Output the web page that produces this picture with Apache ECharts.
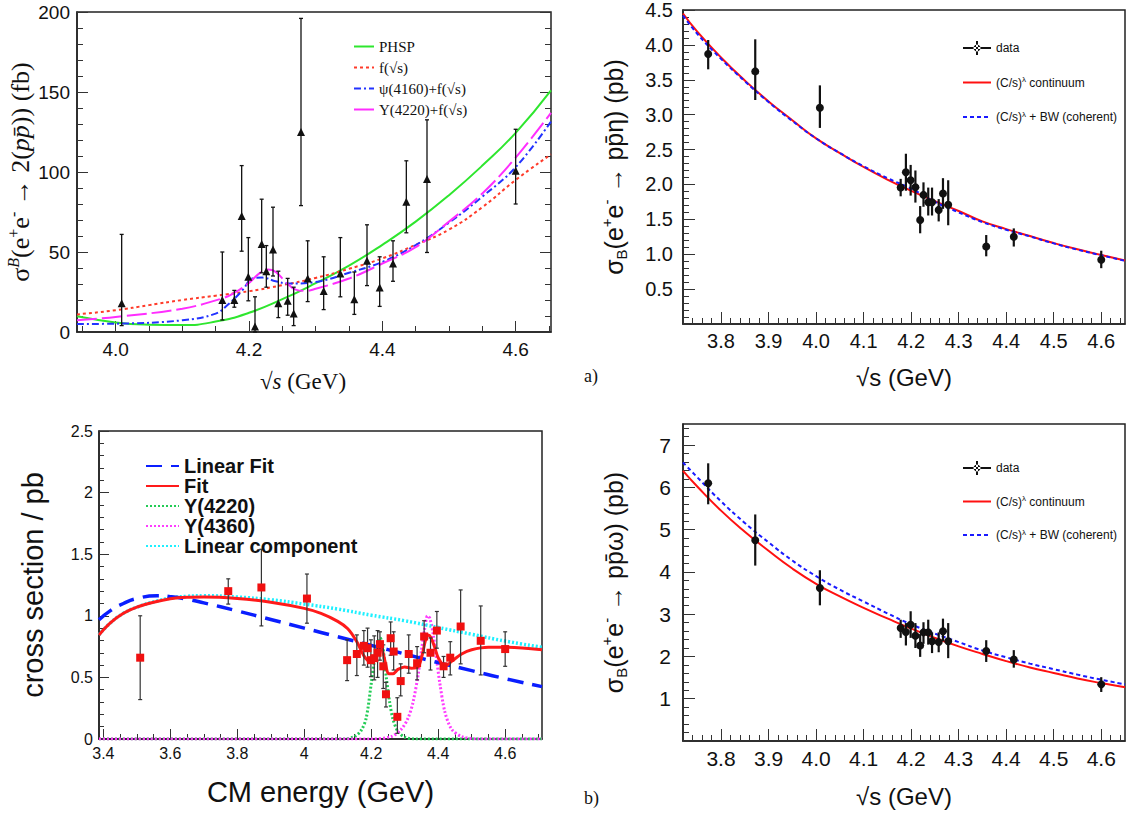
<!DOCTYPE html>
<html>
<head>
<meta charset="utf-8">
<script src="https://cdn.jsdelivr.net/npm/echarts@6.0.0/dist/echarts.min.js"></script>
<style>
  html, body { margin: 0; padding: 0; background: #fff; }
  #main { width: 1131px; height: 818px; }
</style>
</head>
<body>
<div id="main"></div>
<script>
// ---------- panel a) e+e- -> 2(p pbar), fb ----------
var aEnergy = [4.009, 4.160, 4.178, 4.189, 4.199, 4.209, 4.219, 4.226, 4.236, 4.244, 4.258, 4.267, 4.278, 4.288, 4.312, 4.337, 4.358, 4.377, 4.396, 4.416, 4.436, 4.467, 4.600];
var aSigma  = [18, 20, 20, 72.5, 34.5, 3.5, 55, 38, 51.5, 18, 19.5, 11.5, 125, 33.5, 25.7, 36.5, 20.5, 44.5, 27.8, 42.8, 81.4, 95.6, 100.8];
var aLow    = [4, 7.5, 15.5, 50.5, 19.5, 0, 37, 28, 35, 9, 10.5, 4, 79, 19, 14, 22, 11, 29, 16, 31.7, 62, 49.7, 80];
var aHigh   = [61, 50, 26, 104, 59, 22, 83, 54, 78, 38, 33.5, 28, 196, 57, 47, 59, 37.5, 67, 47, 57, 107, 132.6, 126.7];
var aCurveX = [3.942, 4.0, 4.05, 4.1, 4.15, 4.2, 4.25, 4.3, 4.35, 4.4, 4.45, 4.5, 4.55, 4.6, 4.653];
var aPhsp   = [9.8, 6.0, 4.6, 4.3, 6.5, 12, 20.5, 30.5, 41.5, 54.5, 69, 85.5, 104, 124.5, 151];
var aCont   = [11, 13.6, 16.8, 20, 22.7, 25.5, 29.3, 33.8, 39.5, 46, 54.5, 64, 78, 95, 111];
var aPsiX   = [3.942, 4.0, 4.1, 4.15, 4.17, 4.19, 4.205, 4.22, 4.24, 4.26, 4.3, 4.35, 4.4, 4.45, 4.5, 4.55, 4.6, 4.653];
var aPsi    = [5, 5.2, 7.3, 11.5, 17.7, 26, 33.4, 34, 31.7, 30.3, 31.3, 37, 43.8, 54.3, 68.3, 84.6, 103, 131.5];
var aYX     = [3.942, 4.0, 4.1, 4.16, 4.18, 4.2, 4.215, 4.228, 4.24, 4.255, 4.27, 4.285, 4.3, 4.35, 4.4, 4.45, 4.5, 4.55, 4.6, 4.653];
var aY4220  = [7.3, 9.4, 14.6, 21, 25, 30.7, 36.5, 39, 37.6, 31.3, 26.5, 25.7, 27, 33.4, 42.8, 53, 69, 86.6, 109, 137];
var aXLabels = [4.0, 4.2, 4.4, 4.6];
var aYLabels = [0, 50, 100, 150, 200];

// ---------- panel a) right: e+e- -> p pbar eta, pb ----------
var bEnergy = [3.773, 3.872, 4.008, 4.178, 4.189, 4.199, 4.209, 4.219, 4.226, 4.236, 4.244, 4.258, 4.267, 4.278, 4.358, 4.416, 4.600];
var bSigma  = [3.87, 3.62, 3.10, 1.955, 2.175, 2.06, 1.96, 1.49, 1.85, 1.745, 1.745, 1.635, 1.87, 1.71, 1.11, 1.25, 0.92];
var bLow    = [3.65, 3.21, 2.81, 1.83, 1.91, 1.84, 1.74, 1.30, 1.68, 1.555, 1.555, 1.47, 1.65, 1.415, 0.97, 1.11, 0.80];
var bHigh   = [4.07, 4.08, 3.42, 2.08, 2.44, 2.28, 2.20, 1.69, 2.03, 1.955, 1.955, 1.79, 2.09, 2.06, 1.275, 1.37, 1.05];
var bCurveX = [3.72, 3.75, 3.8, 3.85, 3.9, 3.95, 4.0, 4.05, 4.1, 4.15, 4.2, 4.25, 4.3, 4.35, 4.4, 4.45, 4.5, 4.55, 4.6, 4.65];
var bCont   = [4.45, 4.19, 3.82, 3.49, 3.19, 2.92, 2.66, 2.45, 2.25, 2.07, 1.91, 1.76, 1.62, 1.47, 1.36, 1.26, 1.16, 1.07, 0.99, 0.91];
var bBW     = [4.42, 4.16, 3.80, 3.48, 3.18, 2.91, 2.66, 2.45, 2.26, 2.09, 1.94, 1.75, 1.60, 1.46, 1.35, 1.255, 1.155, 1.065, 0.985, 0.905];
var bXLabels = [3.8, 3.9, 4.0, 4.1, 4.2, 4.3, 4.4, 4.5, 4.6];
var bYLabels = [0.5, 1.0, 1.5, 2.0, 2.5, 3.0, 3.5, 4.0, 4.5];

// ---------- panel b) left: cross section / pb ----------
var cEnergy = [3.510, 3.773, 3.872, 4.008, 4.128, 4.157, 4.178, 4.189, 4.199, 4.209, 4.219, 4.226, 4.236, 4.244, 4.258, 4.267, 4.278, 4.288, 4.312, 4.337, 4.358, 4.377, 4.396, 4.416, 4.436, 4.467, 4.527, 4.600];
var cSigma  = [0.66, 1.20, 1.23, 1.14, 0.64, 0.69, 0.756, 0.737, 0.64, 0.656, 0.70, 0.77, 0.59, 0.363, 0.818, 0.71, 0.18, 0.47, 0.69, 0.615, 0.832, 0.70, 0.88, 0.59, 0.66, 0.913, 0.797, 0.73];
var cLow    = [0.32, 1.095, 0.918, 0.94, 0.474, 0.515, 0.60, 0.583, 0.506, 0.48, 0.50, 0.64, 0.41, 0.26, 0.68, 0.56, 0.046, 0.35, 0.534, 0.48, 0.70, 0.56, 0.737, 0.50, 0.52, 0.61, 0.52, 0.59];
var cHigh   = [1.0, 1.30, 1.54, 1.339, 0.805, 0.845, 0.88, 0.90, 0.805, 0.837, 0.88, 0.87, 0.764, 0.46, 0.95, 0.87, 0.335, 0.61, 0.845, 0.75, 0.96, 0.82, 1.035, 0.67, 0.79, 1.21, 1.08, 0.87];
var cLinX   = [3.387, 3.42, 3.46, 3.5, 3.56, 3.6, 3.65, 3.7, 3.8, 3.9, 4.0, 4.1, 4.2, 4.3, 4.4, 4.5, 4.6, 4.71];
var cLinFit = [0.967, 1.04, 1.10, 1.14, 1.163, 1.155, 1.135, 1.105, 1.04, 0.97, 0.90, 0.83, 0.76, 0.69, 0.62, 0.555, 0.49, 0.425];
var cLinCmp = [0.845, 0.94, 1.02, 1.07, 1.12, 1.144, 1.158, 1.163, 1.152, 1.13, 1.095, 1.055, 1.005, 0.96, 0.905, 0.85, 0.795, 0.745];
var cFitX   = [3.387, 3.42, 3.46, 3.5, 3.55, 3.6, 3.65, 3.7, 3.8, 3.9, 4.0, 4.05, 4.1, 4.13, 4.157, 4.177, 4.19, 4.2, 4.21, 4.222, 4.232, 4.242, 4.252, 4.265, 4.28, 4.3, 4.32, 4.34, 4.352, 4.362, 4.37, 4.378, 4.39, 4.4, 4.42, 4.44, 4.47, 4.5, 4.55, 4.6, 4.71];
var cFit    = [0.845, 0.94, 1.02, 1.07, 1.11, 1.138, 1.15, 1.152, 1.14, 1.11, 1.06, 1.02, 0.955, 0.895, 0.79, 0.68, 0.635, 0.62, 0.66, 0.74, 0.73, 0.62, 0.53, 0.53, 0.565, 0.585, 0.575, 0.585, 0.68, 0.80, 0.845, 0.825, 0.74, 0.66, 0.59, 0.63, 0.69, 0.725, 0.745, 0.745, 0.725];
var cG4220X = [3.387, 4.12, 4.15, 4.17, 4.185, 4.2, 4.21, 4.22, 4.227, 4.235, 4.245, 4.255, 4.265, 4.28, 4.3, 4.33, 4.71];
var cG4220  = [0, 0, 0.02, 0.07, 0.17, 0.45, 0.65, 0.78, 0.82, 0.74, 0.5, 0.3, 0.16, 0.06, 0.015, 0, 0];
var cG4360X = [3.387, 4.2, 4.26, 4.29, 4.31, 4.325, 4.34, 4.35, 4.36, 4.368, 4.375, 4.385, 4.395, 4.405, 4.42, 4.44, 4.47, 4.52, 4.71];
var cG4360  = [0, 0, 0.02, 0.08, 0.17, 0.3, 0.52, 0.72, 0.9, 1.0, 0.98, 0.85, 0.65, 0.45, 0.22, 0.08, 0.02, 0, 0];
var cXLabels = [3.4, 3.6, 3.8, 4.0, 4.2, 4.4, 4.6];
var cYLabels = [0, 0.5, 1, 1.5, 2, 2.5];

// ---------- panel b) right: e+e- -> p pbar omega, pb ----------
var dEnergy = bEnergy;
var dSigma  = [6.1, 4.75, 3.62, 2.675, 2.58, 2.75, 2.49, 2.26, 2.57, 2.57, 2.36, 2.34, 2.595, 2.36, 2.13, 1.93, 1.34];
var dLow    = [5.6, 4.15, 3.21, 2.44, 2.26, 2.44, 2.2, 1.99, 2.30, 2.28, 2.08, 2.10, 2.36, 1.96, 1.87, 1.735, 1.16];
var dHigh   = [6.57, 5.36, 4.04, 2.87, 2.79, 3.07, 2.79, 2.53, 2.81, 2.87, 2.57, 2.57, 2.895, 2.79, 2.385, 2.15, 1.51];
var dCont   = [6.39, 6.02, 5.45, 4.95, 4.5, 4.08, 3.72, 3.42, 3.15, 2.9, 2.66, 2.44, 2.24, 2.06, 1.89, 1.74, 1.61, 1.48, 1.37, 1.27];
var dBW     = [6.59, 6.24, 5.67, 5.16, 4.70, 4.27, 3.90, 3.58, 3.30, 3.02, 2.76, 2.54, 2.34, 2.14, 1.98, 1.83, 1.70, 1.57, 1.45, 1.34];
var dYLabels = [1, 2, 3, 4, 5, 6, 7];

var SANS = 'Liberation Sans, Arial, sans-serif';
var SERIF = 'Liberation Serif, Times New Roman, serif';

var grids = [
  {left: 77, top: 12, width: 474, height: 320},
  {left: 683, top: 4, width: 442, height: 320},
  {left: 99, top: 431, width: 443, height: 308},
  {left: 683, top: 424, width: 442, height: 317}
].map(function (g) {
  return Object.assign({show: true, borderColor: '#222', borderWidth: 1.5, backgroundColor: 'transparent'}, g);
});

var xAxes = [], yAxes = [];

function steps(min, max, step) {
  var v = [];
  var t = Math.ceil(min / step - 1e-6);
  for (; t * step <= max + 1e-9; t++) v.push(+(t * step).toFixed(4));
  return v;
}

// one ROOT-like frame: labelled major axis + minor tick axis on each side
function frame(g, o) {
  var xi = xAxes.length, yi = yAxes.length;
  var lab = {fontFamily: o.font, fontSize: o.fs, color: '#111'};
  xAxes.push({
    gridIndex: g, type: 'value', min: o.x[0], max: o.x[1], position: 'bottom',
    axisLine: {show: true, onZero: false, lineStyle: {color: '#222', width: 1.5}},
    axisTick: {show: true, inside: true, length: o.maj, customValues: o.xLabels, lineStyle: {color: '#333'}},
    axisLabel: Object.assign({customValues: o.xLabels, formatter: o.xFmt, margin: o.xMargin}, lab),
    splitLine: {show: false},
    name: o.xName, nameLocation: 'middle', nameGap: o.xGap, nameTextStyle: o.xNameStyle
  });
  xAxes.push({
    gridIndex: g, type: 'value', min: o.x[0], max: o.x[1], position: 'bottom',
    axisLine: {show: false},
    axisTick: {show: true, inside: true, length: o.min, customValues: steps(o.x[0], o.x[1], o.xMinor), lineStyle: {color: '#333'}},
    axisLabel: {show: false}, splitLine: {show: false}
  });
  yAxes.push({
    gridIndex: g, type: 'value', min: o.y[0], max: o.y[1], position: 'left',
    axisLine: {show: true, onZero: false, lineStyle: {color: '#222', width: 1.5}},
    axisTick: {show: true, inside: true, length: o.maj, customValues: o.yLabels, lineStyle: {color: '#333'}},
    axisLabel: Object.assign({customValues: o.yLabels, formatter: o.yFmt, margin: o.yMargin}, lab),
    splitLine: {show: false},
    name: o.yName, nameLocation: 'middle', nameGap: o.yGap, nameTextStyle: o.yNameStyle
  });
  yAxes.push({
    gridIndex: g, type: 'value', min: o.y[0], max: o.y[1], position: 'left',
    axisLine: {show: false},
    axisTick: {show: true, inside: true, length: o.min, customValues: steps(o.y[0], o.y[1], o.yMinor), lineStyle: {color: '#333'}},
    axisLabel: {show: false}, splitLine: {show: false}
  });
  if (o.mirror) {
    yAxes.push({
      gridIndex: g, type: 'value', min: o.y[0], max: o.y[1], position: 'right',
      axisLine: {show: false},
      axisTick: {show: true, inside: true, length: o.maj, customValues: o.yLabels, lineStyle: {color: '#333'}},
      axisLabel: {show: false}, splitLine: {show: false}
    });
    yAxes.push({
      gridIndex: g, type: 'value', min: o.y[0], max: o.y[1], position: 'right',
      axisLine: {show: false},
      axisTick: {show: true, inside: true, length: o.min, customValues: steps(o.y[0], o.y[1], o.yMinor), lineStyle: {color: '#333'}},
      axisLabel: {show: false}, splitLine: {show: false}
    });
  }
  return [xi, yi];
}

function fix1(v) { return v.toFixed(1); }
function plain(v) { return String(+v.toFixed(2)); }

var sigRich = {
  t: {fontFamily: SANS, fontSize: 25, color: '#111', lineHeight: 30},
  sup: {fontFamily: SANS, fontSize: 15, color: '#111', lineHeight: 30, verticalAlign: 'top'},
  sub: {fontFamily: SANS, fontSize: 15, color: '#111', lineHeight: 30, verticalAlign: 'bottom'}
};

var A = frame(0, {
  x: [3.942, 4.653], y: [0, 200], xLabels: aXLabels, yLabels: aYLabels, xMinor: 0.05, yMinor: 10,
  xFmt: fix1, yFmt: plain, font: SANS, fs: 19, maj: 11, min: 6, xMargin: 8, yMargin: 7, mirror: true,
  xName: '√{i|s} (GeV)', xGap: 38,
  xNameStyle: {fontFamily: SERIF, fontSize: 23, color: '#111', padding: [0, 22, 0, 0],
    rich: {i: {fontFamily: SERIF, fontSize: 23, fontStyle: 'italic', color: '#111'}}},
  yName: '{t|σ}{sup|B}{t|(e}{s2|+}{t|e}{s2|-}{t| → 2(}{i|pp\u0304}{t|)) (fb)}', yGap: 42,
  yNameStyle: {rich: {
    t: {fontFamily: SERIF, fontSize: 26, color: '#111', lineHeight: 30},
    i: {fontFamily: SERIF, fontSize: 26, fontStyle: 'italic', color: '#111', lineHeight: 30},
    sup: {fontFamily: SERIF, fontSize: 16, fontStyle: 'italic', color: '#111', lineHeight: 30, verticalAlign: 'top'},
    s2: {fontFamily: SERIF, fontSize: 16, color: '#111', lineHeight: 30, verticalAlign: 'top'}
  }}
});

var B = frame(1, {
  x: [3.72, 4.65], y: [0, 4.5], xLabels: bXLabels, yLabels: bYLabels, xMinor: 0.02, yMinor: 0.1,
  xFmt: fix1, yFmt: fix1, font: SANS, fs: 20, maj: 12, min: 6, xMargin: 7, yMargin: 10,
  xName: '√s (GeV)', xGap: 41, xNameStyle: {fontFamily: SANS, fontSize: 24, color: '#111'},
  yName: '{t|σ}{sub|B}{t|(e}{sup|+}{t|e}{sup|-}{t| → pp\u0304η) (pb)}', yGap: 54, yNameStyle: {rich: sigRich}
});

var C = frame(2, {
  x: [3.387, 4.71], y: [0, 2.5], xLabels: cXLabels, yLabels: cYLabels, xMinor: 0.05, yMinor: 0.1,
  xFmt: plain, yFmt: plain, font: SANS, fs: 16, maj: 10, min: 5, xMargin: 6, yMargin: 6,
  xName: 'CM energy (GeV)', xGap: 38, xNameStyle: {fontFamily: SANS, fontSize: 29, color: '#111'},
  yName: 'cross section / pb', yGap: 52, yNameStyle: {fontFamily: SANS, fontSize: 29, color: '#111'}
});

var D = frame(3, {
  x: [3.72, 4.65], y: [0, 7.5], xLabels: bXLabels, yLabels: dYLabels, xMinor: 0.02, yMinor: 0.2,
  xFmt: fix1, yFmt: plain, font: SANS, fs: 21, maj: 12, min: 6, xMargin: 7, yMargin: 12,
  xName: '√s (GeV)', xGap: 43, xNameStyle: {fontFamily: SANS, fontSize: 24, color: '#111'},
  yName: '{t|σ}{sub|B}{t|(e}{sup|+}{t|e}{sup|-}{t| → pp\u0304ω) (pb)}', yGap: 54, yNameStyle: {rich: sigRich}
});

function zip(xs, ys) { return xs.map(function (x, i) { return [x, ys[i]]; }); }

function curve(ax, name, xs, ys, color, width, type, smooth) {
  return {
    type: 'line', name: name, xAxisIndex: ax[0], yAxisIndex: ax[1], data: zip(xs, ys),
    symbol: 'none', smooth: smooth == null ? 0.5 : smooth, silent: true, z: 2,
    lineStyle: {color: color, width: width, type: type || 'solid'}, itemStyle: {color: color}
  };
}

function points(ax, name, xs, ys, symbol, size, color) {
  return {
    type: 'scatter', name: name, xAxisIndex: ax[0], yAxisIndex: ax[1], data: zip(xs, ys),
    symbol: symbol, symbolSize: size, itemStyle: {color: color, opacity: 1}, silent: true, z: 4
  };
}

function errorBars(ax, xs, lo, hi, color, width, cap) {
  return {
    type: 'custom', xAxisIndex: ax[0], yAxisIndex: ax[1], silent: true, z: 3,
    data: xs.map(function (x, i) { return [x, lo[i], hi[i]]; }),
    encode: {x: 0, y: [1, 2]},
    renderItem: function (params, api) {
      var p0 = api.coord([api.value(0), api.value(1)]);
      var p1 = api.coord([api.value(0), api.value(2)]);
      var st = {stroke: color, lineWidth: width};
      var ch = [{type: 'line', shape: {x1: p0[0], y1: p0[1], x2: p1[0], y2: p1[1]}, style: st}];
      if (cap) {
        ch.push({type: 'line', shape: {x1: p0[0] - cap, y1: p0[1], x2: p0[0] + cap, y2: p0[1]}, style: st});
        ch.push({type: 'line', shape: {x1: p1[0] - cap, y1: p1[1], x2: p1[0] + cap, y2: p1[1]}, style: st});
      }
      return {type: 'group', children: ch};
    }
  };
}

var CONT = '(C/s)^λ continuum';
var BWC = '(C/s)^λ + BW (coherent)';

var series = [
  // a) 2(p pbar)
  curve(A, 'PHSP', aCurveX, aPhsp, '#2ee62e', 2),
  curve(A, 'f(√s)', aCurveX, aCont, '#ff3b2a', 2, [3, 3]),
  curve(A, 'ψ(4160)+f(√s)', aPsiX, aPsi, '#2233ff', 2, [7, 3, 2, 3], 0.4),
  curve(A, 'Y(4220)+f(√s)', aYX, aY4220, '#ff2dff', 2, [20, 5], 0.4),
  errorBars(A, aEnergy, aLow, aHigh, '#111', 1.3, 2),
  points(A, 'a data', aEnergy, aSigma, 'triangle', 8, '#111'),
  // a) p pbar eta
  curve(B, CONT, bCurveX, bCont, '#ff1010', 2),
  curve(B, BWC, bCurveX, bBW, '#1a1aff', 2, [4, 3]),
  errorBars(B, bEnergy, bLow, bHigh, '#111', 2.2, 0),
  points(B, 'data', bEnergy, bSigma, 'circle', 8, '#111'),
  // b) cross section fit
  curve(C, 'Y(4220)', cG4220X, cG4220, '#22cc55', 3, [2, 2], 0.3),
  curve(C, 'Y(4360)', cG4360X, cG4360, '#ff3cff', 3, [2, 2], 0.3),
  curve(C, 'Linear component', cLinX, cLinCmp, '#1ef0ff', 3.5, [2, 2]),
  curve(C, 'Linear Fit', cLinX, cLinFit, '#0a1eff', 3.5, [16, 9]),
  curve(C, 'Fit', cFitX, cFit, '#ff1a1a', 3, 'solid', 0.3),
  errorBars(C, cEnergy, cLow, cHigh, '#333', 1.2, 2),
  points(C, 'c data', cEnergy, cSigma, 'rect', 8, '#f01010'),
  // b) p pbar omega
  curve(D, CONT, bCurveX, dCont, '#ff1010', 2),
  curve(D, BWC, bCurveX, dBW, '#1a1aff', 2, [4, 3]),
  errorBars(D, dEnergy, dLow, dHigh, '#111', 2.2, 0),
  points(D, 'data', dEnergy, dSigma, 'circle', 8, '#111')
];

var dataIcon = 'path://M0,6h28v2h-28z M13,0h2v14h-2z M14,3.5a3.5,3.5 0 1,0 0.01,0z';
function lambdaFmt(name) { return name.replace('^λ', '{s|λ}'); }
var smallRich = {s: {fontSize: 8, verticalAlign: 'top', lineHeight: 14, fontFamily: SANS, color: '#111'}};
var hideSym = {opacity: 0};

var legends = [
  {
    left: 348, top: 34, orient: 'vertical', itemWidth: 20, itemHeight: 12, itemGap: 6,
    selectedMode: false, itemStyle: hideSym,
    textStyle: {fontFamily: SERIF, fontSize: 15, lineHeight: 15, color: '#111'},
    data: ['PHSP', 'f(√s)', 'ψ(4160)+f(√s)', 'Y(4220)+f(√s)']
  },
  {
    left: 957, top: 36, orient: 'vertical', itemWidth: 28, itemHeight: 14, itemGap: 20.5,
    selectedMode: false, formatter: lambdaFmt, itemStyle: hideSym,
    textStyle: {fontFamily: SANS, fontSize: 12, lineHeight: 14, color: '#111', rich: smallRich},
    data: [{name: 'data', icon: dataIcon, itemStyle: {opacity: 1, color: '#111'}}, CONT, BWC]
  },
  {
    left: 140, top: 451, orient: 'vertical', itemWidth: 33, itemHeight: 10, itemGap: 0,
    selectedMode: false, itemStyle: hideSym,
    textStyle: {fontFamily: SANS, fontSize: 20, fontWeight: 'bold', lineHeight: 18.5, color: '#111'},
    data: ['Linear Fit', 'Fit', 'Y(4220)', 'Y(4360)', 'Linear component']
  },
  {
    left: 957, top: 456, orient: 'vertical', itemWidth: 28, itemHeight: 14, itemGap: 19.5,
    selectedMode: false, formatter: lambdaFmt, itemStyle: hideSym,
    textStyle: {fontFamily: SANS, fontSize: 12, lineHeight: 14, color: '#111', rich: smallRich},
    data: [{name: 'data', icon: dataIcon, itemStyle: {opacity: 1, color: '#111'}}, CONT, BWC]
  }
];

var chart = echarts.init(document.getElementById('main'), null, {renderer: 'svg'});
chart.setOption({
  animation: false,
  backgroundColor: '#fff',
  textStyle: {fontFamily: SANS},
  grid: grids,
  xAxis: xAxes,
  yAxis: yAxes,
  legend: legends,
  series: series,
  graphic: [
    {type: 'text', left: 584, top: 367, style: {text: 'a)', font: '18px ' + SERIF, fill: '#111'}},
    {type: 'text', left: 584, top: 789, style: {text: 'b)', font: '18px ' + SERIF, fill: '#111'}}
  ]
});
</script>
</body>
</html>
